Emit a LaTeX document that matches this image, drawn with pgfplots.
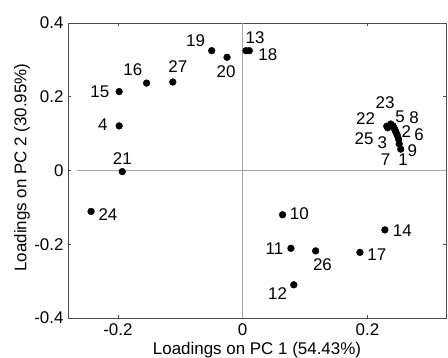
\documentclass[border=0pt]{standalone}
\usepackage{pgfplots}
\pgfplotsset{compat=1.18}
\usepackage{fontspec}
\setmainfont{Liberation Sans}

\begin{document}
\begin{tikzpicture}
\begin{axis}[
  scale only axis, width=378bp, height=295bp,
  xmin=-0.28, xmax=0.326, ymin=-0.4, ymax=0.4,
  xtick={-0.2,0,0.2}, ytick={-0.4,-0.2,0,0.2,0.4},
  axis line style={draw=black!70, line width=0.8pt},
  tick style={black!70, line width=0.7pt}, major tick length=3bp,
  tick align=inside,
  font=\fontsize{17}{20}\selectfont,
  /pgf/number format/assume math mode=true,
  /pgf/number format/fixed,
  xticklabel style={yshift=-2bp},
  yticklabel style={xshift=-1bp},
  xlabel={Loadings on PC 1 (54.43\%)},
  ylabel={Loadings on PC 2 (30.95\%)},
  xlabel style={at={(axis description cs:0.5,-0.108)}, anchor=center},
  ylabel style={at={(axis description cs:-0.122,0.51)}, anchor=center},
  clip=false,
]
\addplot[black!35, line width=0.8pt] coordinates {(0,-0.4) (0,0.4)};
\addplot[black!35, line width=0.8pt] coordinates {(-0.265,0) (0.326,0)};
\addplot[only marks, mark=*, mark size=3.4bp, black] table {
x y
0.2534 0.058
0.246 0.103
0.2445 0.109
-0.198 0.121
0.241 0.121
0.248 0.095
0.251 0.072
0.243 0.115
0.250 0.085
0.064 -0.120
0.0774 -0.211
0.082 -0.310
0.0054 0.325
0.228 -0.161
-0.198 0.214
-0.154 0.237
0.188 -0.222
0.0107 0.325
-0.0496 0.325
-0.025 0.307
-0.193 -0.003
0.231 0.120
0.2374 0.126
-0.243 -0.111
0.2325 0.116
0.117 -0.218
-0.112 0.240
};
\node at (axis cs:0.257,0.029) {1};
\node at (axis cs:0.2624,0.106) {2};
\node at (axis cs:0.224,0.076) {3};
\node at (axis cs:-0.224,0.124) {4};
\node at (axis cs:0.2523,0.146) {5};
\node at (axis cs:0.283,0.097) {6};
\node at (axis cs:0.229,0.029) {7};
\node at (axis cs:0.2747,0.144) {8};
\node at (axis cs:0.272,0.054) {9};
\node at (axis cs:0.091,-0.117) {10};
\node at (axis cs:0.051,-0.211) {11};
\node at (axis cs:0.056,-0.335) {12};
\node at (axis cs:0.0198,0.359) {13};
\node at (axis cs:0.256,-0.163) {14};
\node at (axis cs:-0.229,0.214) {15};
\node at (axis cs:-0.176,0.273) {16};
\node at (axis cs:0.215,-0.229) {17};
\node at (axis cs:0.0403,0.315) {18};
\node at (axis cs:-0.0755,0.352) {19};
\node at (axis cs:-0.0266,0.268) {20};
\node at (axis cs:-0.193,0.032) {21};
\node at (axis cs:0.197,0.142) {22};
\node at (axis cs:0.2283,0.183) {23};
\node at (axis cs:-0.216,-0.120) {24};
\node at (axis cs:0.1947,0.087) {25};
\node at (axis cs:0.128,-0.256) {26};
\node at (axis cs:-0.104,0.282) {27};
\end{axis}
\pgfresetboundingbox
\path ([xshift=-68bp,yshift=-40bp]current axis.south west) rectangle ([xshift=2bp,yshift=23bp]current axis.north east);
\end{tikzpicture}
\end{document}
